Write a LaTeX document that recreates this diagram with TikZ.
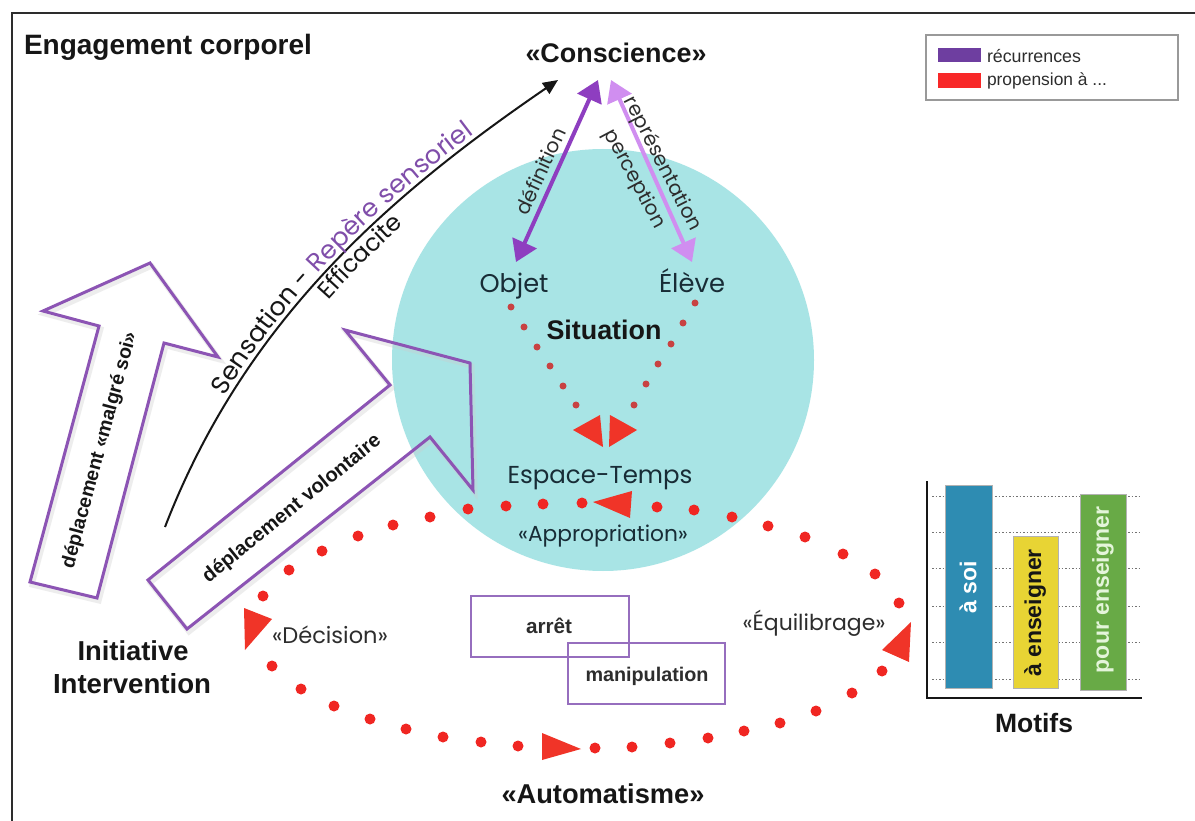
\documentclass[tikz,border=0pt]{standalone}
\usepackage{fontspec}
\setmainfont{Liberation Sans}
\newfontfamily\pop{Poppins}
\usetikzlibrary{arrows.meta,decorations.text}

\definecolor{ink}{RGB}{22,22,22}
\definecolor{slate}{RGB}{24,44,54}
\definecolor{greytext}{RGB}{45,45,45}
\definecolor{cyanfill}{RGB}{168,228,229}
\definecolor{arrowpurple}{RGB}{140,84,180}
\definecolor{repere}{RGB}{128,78,170}
\definecolor{darkviolet}{RGB}{142,62,192}
\definecolor{lightviolet}{RGB}{208,142,240}
\definecolor{dotred}{RGB}{240,38,34}
\definecolor{innerdot}{RGB}{200,66,66}
\definecolor{trired}{RGB}{240,52,40}
\definecolor{legpurple}{RGB}{110,62,160}
\definecolor{legred}{RGB}{248,40,40}
\definecolor{boxpurple}{RGB}{150,110,190}
\definecolor{barblue}{RGB}{46,140,178}
\definecolor{baryellow}{RGB}{232,212,52}
\definecolor{bargreen}{RGB}{104,170,70}
\definecolor{palegreen}{RGB}{228,245,218}

% set #3 in font #1, scaled so that its width is #2 pt
\newcommand\fitw[3]{%
  \setbox0=\hbox{#1\fontsize{10pt}{12pt}\selectfont #3}%
  \pgfmathsetmacro\fitsz{10*#2/\the\wd0}%
  {#1\fontsize{\fitsz pt}{\fitsz pt}\selectfont #3}}

\begin{document}
\begin{tikzpicture}[x=1pt,y=-1pt,
  lbl/.style={inner sep=0pt,outer sep=0pt,anchor=base},
  rot/.style={inner sep=0pt,outer sep=0pt,anchor=center,rotate=#1},
  blockarrow/.style={draw=arrowpurple,line width=3pt,line join=miter},
  arrowshadow/.style={draw=black!20,line width=5pt,line join=miter,opacity=0.35},
  reddot/.style={fill=dotred},
  smalldot/.style={fill=innerdot},
  tri/.style={fill=trired},
  barbox/.style={draw=black!30,line width=1pt},
  gridline/.style={draw=black!55,line width=0.9pt,dash pattern=on 1.5pt off 2pt},
  dbl/.style={line width=4pt,{Triangle[length=21pt,width=26pt]}-{Triangle[length=21pt,width=26pt]}},
  smallbox/.style={draw=boxpurple,line width=2pt}]

\useasboundingbox (0,0) rectangle (1195,821);
\fill[white] (0,0) rectangle (1195,821);

% frame
\draw[ink!90,line width=2pt] (12,821) -- (12,13) -- (1195,13);

% the situation disc
\fill[cyanfill] (603,360) circle[radius=211pt];

% legend
\draw[black!40,line width=1.5pt] (926,35) rectangle (1178,100);
\fill[legpurple] (938,48) rectangle (981,62);
\fill[legred] (938,73) rectangle (981,88);
\node[lbl,anchor=base west,text=greytext] (legA) at (987,63) {\fitw{}{94}{récurrences}};
\node[lbl,anchor=base west,text=greytext] (legB) at (987,86) {\fitw{}{120}{propension à ...}};

% titles
\node[lbl,text=ink] (engagement) at (168,55) {\fitw{\bfseries}{288}{Engagement corporel}};
\node[lbl,text=ink] (conscience) at (616,63) {\fitw{\bfseries}{181}{«Conscience»}};

% sensation curve with its two labels running along it
\coordinate (sensStart) at (165,527);
\coordinate (sensEnd) at (558,80);
\draw[ink,line width=2pt,-{Triangle[length=15pt,width=13pt]}]
  (sensStart) .. controls (245,320) and (390,195) .. (sensEnd);
\path[decorate,decoration={text along path,
    text format delimiters={|}{|},
    text={|\pop\fontsize{25.5}{25.5}\selectfont\color{ink}|Sensation - |+\color{repere}|Repère sensoriel},
    text align={left indent=143pt},raise=5pt}]
  (sensStart) .. controls (245,320) and (390,195) .. (sensEnd);
\path[decorate,decoration={text along path,
    text format delimiters={|}{|},
    text={|\pop\fontsize{24}{24}\selectfont\color{ink}|Efficacite},
    text align={left indent=284pt},raise=-21pt}]
  (sensStart) .. controls (245,320) and (390,195) .. (sensEnd);

% conscience arrows
\coordinate (apexL) at (598,80);
\coordinate (apexR) at (611,80);
\coordinate (objTip) at (516,262);
\coordinate (eleTip) at (692,262);
\draw[dbl,lightviolet] (eleTip) -- (apexR);
\draw[dbl,darkviolet] (objTip) -- (apexL);
\node[rot=65,text=greytext] (definition) at (540,171) {\pop\fontsize{20}{20}\selectfont définition};
\node[rot=-62,text=greytext] (perception) at (634,179) {\pop\fontsize{20}{20}\selectfont perception};
\node[rot=-63,text=greytext] (representation) at (662,164) {\pop\fontsize{20}{20}\selectfont représentation};

% situation labels
\node[lbl,text=slate] (objet) at (514,293) {\fitw{\pop}{69}{Objet}};
\node[lbl,text=slate] (eleve) at (692,293) {\fitw{\pop}{66}{Élève}};
\node[lbl,text=ink] (situation) at (604,339) {\fitw{\bfseries}{115}{Situation}};
\node[lbl,text=slate] (espace) at (600,483) {\fitw{\pop}{185}{Espace-Temps}};
\node[lbl,text=slate] (appropriation) at (603,541) {\fitw{\pop}{170}{«Appropriation»}};

% dotted V from Objet and Élève
\foreach \x/\y in {511/307,524/327,537/347,550/366,563/386,576/405,
                   695/303,683/323,671/344,658/364,646/384,634/405}
  \fill[smalldot] (\x,\y) circle[radius=3.5pt];
\fill[tri] (573,430) -- (600,415) -- (603,447) -- cycle;
\fill[tri] (637,430) -- (610,415) -- (609,447) -- cycle;

% dotted loop
\foreach \x/\y in {393/525,430/517,468/509,506/506,543/504,582/503,
                   657/507,694/510,732/517,768/526,805/537,843/554,875/574,899/603,
                   882/671,852/693,816/711,780/723,744/731,708/738,670/743,632/747,595/748,
                   518/746,481/742,443/737,406/729,370/719,334/706,301/689,272/666,
                   263/596,289/570,322/551,358/536}
  \fill[reddot] (\x,\y) circle[radius=5.5pt];
\fill[tri] (593,502) -- (632,491) -- (630,518) -- cycle;
\fill[tri] (882,650) -- (911,622) -- (909,662) -- cycle;
\fill[tri] (542,733) -- (581,749) -- (542,760) -- cycle;
\fill[tri] (244,608) -- (272,619) -- (245,650) -- cycle;

\node[lbl,text=greytext] (decision) at (330,643) {\fitw{\pop}{116}{«Décision»}};
\node[lbl,text=greytext] (equilibrage) at (814,630) {\fitw{\pop}{143}{«Équilibrage»}};
\node[lbl,text=ink] (automatisme) at (603,803) {\fitw{\bfseries}{203}{«Automatisme»}};

% block arrows
\begin{scope}[shift={(2,3)}]
  \draw[arrowshadow] (30,582) -- (99,326) -- (43,311) -- (150,263) -- (218,357) -- (164,343) -- (97,598) -- cycle;
  \draw[arrowshadow] (148,580) -- (390,385) -- (345,330) -- (470,363) -- (473,490) -- (430,437) -- (187,629) -- cycle;
\end{scope}
\draw[blockarrow] (30,582) -- (99,326) -- (43,311) -- (150,263) -- (218,357) -- (164,343) -- (97,598) -- cycle;
\draw[blockarrow] (148,580) -- (390,385) -- (345,330) -- (470,363) -- (473,490) -- (430,437) -- (187,629) -- cycle;
\node[rot=75,text=ink] (malgre) at (100,450) {\bfseries\fontsize{19.5}{19.5}\selectfont déplacement «malgré soi»};
\node[rot=39,text=ink] (volontaire) at (292,509) {\bfseries\fontsize{20}{20}\selectfont déplacement volontaire};

\node[lbl,text=ink] (initiative) at (133,660) {\fitw{\bfseries}{111}{Initiative}};
\node[lbl,text=ink] (intervention) at (132,693) {\fitw{\bfseries}{158}{Intervention}};

% arrêt / manipulation
\draw[smallbox] (471,596) rectangle (629,657);
\draw[smallbox] (568,643) rectangle (725,704);
\node[lbl,text=greytext] (arret) at (549,633) {\fitw{\bfseries}{46}{arrêt}};
\node[lbl,text=greytext] (manip) at (647,681) {\fitw{\bfseries}{123}{manipulation}};

% motifs chart
\foreach \y in {496,532,568,606,642,679}
  \draw[gridline] (932,\y) -- (1140,\y);
\filldraw[barbox,fill=barblue] (945,485) rectangle (992,688);
\filldraw[barbox,fill=baryellow] (1013,536) rectangle (1058,688);
\filldraw[barbox,fill=bargreen] (1080,494) rectangle (1126,690);
\draw[ink,line width=2pt] (927,481) -- (927,698) -- (1142,698);
\node[rot=90,text=white] (asoi) at (968,587) {\bfseries\fontsize{23}{23}\selectfont à soi};
\node[rot=90,text=ink] (aens) at (1035,613) {\bfseries\fontsize{23}{23}\selectfont à enseigner};
\node[rot=90,text=palegreen] (pourens) at (1103,590) {\bfseries\fontsize{23}{23}\selectfont pour enseigner};
\node[lbl,text=ink] (motifs) at (1034,732) {\fitw{\bfseries}{78}{Motifs}};

\end{tikzpicture}
\end{document}
